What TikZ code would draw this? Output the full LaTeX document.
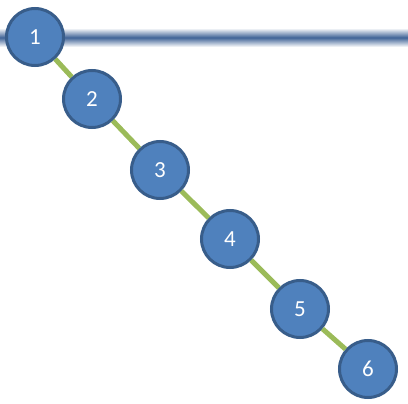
\documentclass[tikz,border=0pt]{standalone}
\usepackage{fontspec}
\setmainfont{Carlito}
\definecolor{nodefill}{HTML}{4F81BD}
\definecolor{nodeline}{HTML}{385D8A}
\definecolor{linkgreen}{HTML}{9BBB59}
\definecolor{bardark}{HTML}{3F6396}
\begin{document}
\begin{tikzpicture}[x=1pt,y=-1pt,
  treenode/.style={circle,draw=nodeline,line width=3pt,fill=nodefill,minimum size=57pt,inner sep=0pt,text=white,font=\fontsize{23}{26}\selectfont},
  link/.style={draw=linkgreen,line width=5pt}]
\useasboundingbox (0,0) rectangle (408,404);
\shade[top color=white,bottom color=white,middle color=bardark,shading=axis] (0,28) rectangle (408,47);
\node[treenode] (n1) at (35,37) {1};
\node[treenode] (n2) at (92,99) {2};
\node[treenode] (n3) at (160,170) {3};
\node[treenode] (n4) at (230,239) {4};
\node[treenode] (n5) at (300,309) {5};
\node[treenode] (n6) at (368,369) {6};
\draw[link] (n1) -- (n2);
\draw[link] (n2) -- (n3);
\draw[link] (n3) -- (n4);
\draw[link] (n4) -- (n5);
\draw[link] (n5) -- (n6);
\end{tikzpicture}
\end{document}
